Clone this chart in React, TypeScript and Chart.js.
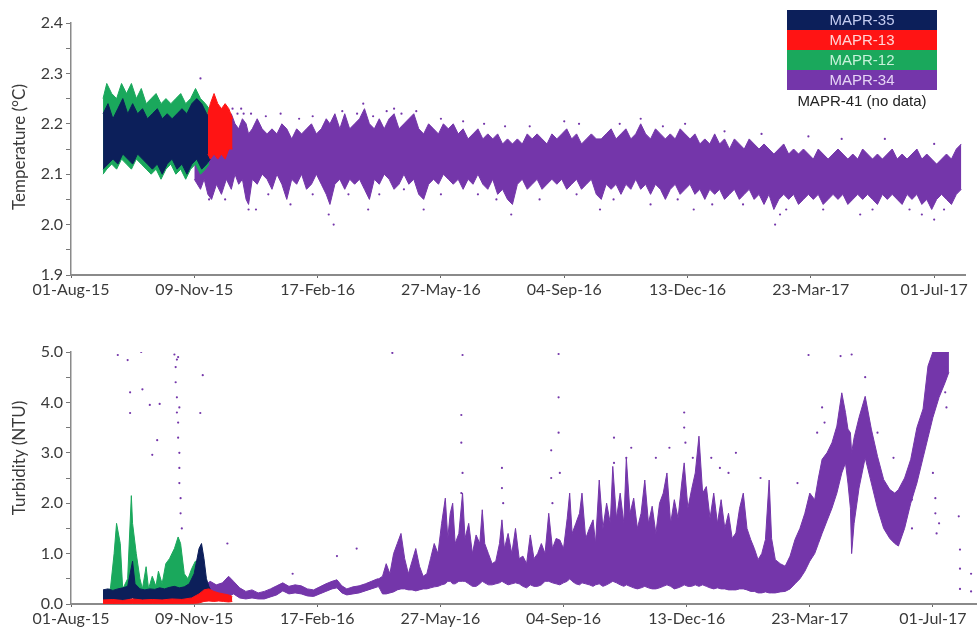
import React, { useEffect, useRef } from 'react';
import { Chart, registerables } from 'chart.js';
Chart.register(...registerables);

// ---------- axis ticks ----------
const xTickDays = [0, 100, 200, 300, 400, 500, 600, 700];
const xTickLabels = ['01-Aug-15', '09-Nov-15', '17-Feb-16', '27-May-16', '04-Sep-16', '13-Dec-16', '23-Mar-17', '01-Jul-17'];
const tempTicks = [1.9, 1.95, 2.0, 2.05, 2.1, 2.15, 2.2, 2.25, 2.3, 2.35, 2.4];
const tempTickLabels = ['1.9', '', '2.0', '', '2.1', '', '2.2', '', '2.3', '', '2.4'];
const turbTicks = [0, 0.5, 1, 1.5, 2, 2.5, 3, 3.5, 4, 4.5, 5];
const turbTickLabels = ['0.0', '', '1.0', '', '2.0', '', '3.0', '', '4.0', '', '5.0'];

// ---------- series names / colours ----------
const seriesNames = ['MAPR-35', 'MAPR-13', 'MAPR-12', 'MAPR-34'];
const seriesColors = ['#0c1f5a', '#ff1414', '#1aa85c', '#7436aa'];
const noDataLabel = 'MAPR-41 (no data)';

// ---------- Temperature (days since 01-Aug-15, envelope low / high) ----------
const tNavyDays = [26, 30, 34, 38, 42, 46, 50, 54, 58, 62, 66, 70, 74, 78, 82, 86, 90, 94, 98, 102, 106, 110, 113];
const tNavyLo = [2.11, 2.12, 2.13, 2.12, 2.14, 2.13, 2.12, 2.14, 2.13, 2.12, 2.11, 2.12, 2.10, 2.12, 2.13, 2.11, 2.12, 2.10, 2.12, 2.13, 2.11, 2.12, 2.13];
const tNavyHi = [2.22, 2.24, 2.21, 2.23, 2.25, 2.22, 2.24, 2.22, 2.23, 2.21, 2.22, 2.23, 2.21, 2.22, 2.21, 2.22, 2.23, 2.22, 2.24, 2.25, 2.24, 2.22, 2.21];

const tGreenDays = [26, 29, 33, 37, 41, 45, 49, 53, 57, 61, 65, 69, 73, 77, 81, 85, 89, 93, 97, 101, 105, 109, 112];
const tGreenLo = [2.10, 2.11, 2.12, 2.11, 2.13, 2.12, 2.11, 2.13, 2.12, 2.11, 2.10, 2.11, 2.09, 2.11, 2.12, 2.10, 2.11, 2.09, 2.11, 2.12, 2.10, 2.11, 2.12];
const tGreenHi = [2.25, 2.28, 2.26, 2.25, 2.28, 2.26, 2.28, 2.25, 2.27, 2.24, 2.25, 2.26, 2.24, 2.25, 2.24, 2.25, 2.26, 2.24, 2.25, 2.27, 2.25, 2.24, 2.23];

const tRedDays = [111, 113, 116, 119, 122, 125, 128, 131];
const tRedLo = [2.14, 2.13, 2.14, 2.13, 2.14, 2.13, 2.15, 2.15];
const tRedHi = [2.22, 2.24, 2.26, 2.24, 2.23, 2.24, 2.23, 2.21];

const tPurpleDays = [100, 105, 108, 111, 114, 118, 122, 126, 130, 133, 136, 139, 142, 144, 147, 151, 155, 159, 163, 167, 171, 175, 179, 183, 187, 191, 195, 199, 203, 207, 210, 214, 218, 222, 226, 230, 234, 238, 242, 246, 250, 254, 258, 262, 266, 270, 274, 278, 282, 286, 290, 294, 298, 302, 306, 310, 314, 318, 322, 326, 330, 334, 338, 342, 346, 350, 354, 358, 362, 366, 370, 374, 378, 382, 386, 390, 394, 398, 402, 406, 410, 414, 418, 422, 426, 430, 434, 438, 442, 446, 450, 454, 458, 462, 466, 470, 474, 478, 482, 486, 490, 494, 498, 502, 506, 510, 514, 518, 522, 526, 530, 534, 538, 542, 546, 550, 554, 558, 562, 566, 570, 574, 578, 582, 586, 590, 594, 598, 602, 606, 610, 614, 618, 622, 626, 630, 634, 638, 642, 646, 650, 654, 658, 662, 666, 670, 674, 678, 682, 686, 690, 694, 698, 702, 706, 710, 714, 718, 722];
const tPurpleLo = [2.09, 2.07, 2.09, 2.06, 2.05, 2.08, 2.06, 2.09, 2.07, 2.10, 2.08, 2.09, 2.05, 2.04, 2.09, 2.08, 2.10, 2.09, 2.07, 2.10, 2.08, 2.05, 2.09, 2.08, 2.10, 2.07, 2.08, 2.10, 2.08, 2.06, 2.04, 2.08, 2.09, 2.07, 2.09, 2.08, 2.09, 2.07, 2.05, 2.09, 2.08, 2.10, 2.09, 2.07, 2.08, 2.10, 2.08, 2.09, 2.06, 2.05, 2.08, 2.09, 2.08, 2.10, 2.09, 2.08, 2.09, 2.07, 2.09, 2.08, 2.10, 2.08, 2.07, 2.09, 2.06, 2.07, 2.05, 2.04, 2.08, 2.09, 2.07, 2.08, 2.09, 2.07, 2.08, 2.09, 2.08, 2.09, 2.07, 2.08, 2.09, 2.07, 2.08, 2.09, 2.06, 2.05, 2.08, 2.07, 2.08, 2.06, 2.08, 2.07, 2.09, 2.07, 2.08, 2.06, 2.08, 2.07, 2.05, 2.07, 2.08, 2.06, 2.07, 2.08, 2.06, 2.07, 2.05, 2.07, 2.06, 2.07, 2.05, 2.06, 2.07, 2.05, 2.06, 2.07, 2.05, 2.06, 2.04, 2.06, 2.03, 2.05, 2.06, 2.05, 2.06, 2.04, 2.05, 2.06, 2.05, 2.06, 2.04, 2.05, 2.06, 2.05, 2.06, 2.04, 2.05, 2.06, 2.05, 2.06, 2.05, 2.04, 2.06, 2.05, 2.06, 2.05, 2.04, 2.06, 2.05, 2.06, 2.04, 2.05, 2.03, 2.05, 2.06, 2.05, 2.04, 2.06, 2.07];
const tPurpleHi = [2.14, 2.16, 2.18, 2.17, 2.19, 2.17, 2.18, 2.20, 2.22, 2.20, 2.19, 2.21, 2.20, 2.18, 2.19, 2.21, 2.19, 2.18, 2.19, 2.18, 2.20, 2.19, 2.17, 2.19, 2.18, 2.19, 2.20, 2.18, 2.19, 2.21, 2.20, 2.22, 2.19, 2.22, 2.19, 2.20, 2.21, 2.23, 2.20, 2.19, 2.21, 2.19, 2.21, 2.22, 2.19, 2.20, 2.21, 2.22, 2.19, 2.18, 2.20, 2.19, 2.18, 2.20, 2.19, 2.20, 2.18, 2.19, 2.17, 2.18, 2.19, 2.17, 2.18, 2.17, 2.18, 2.16, 2.17, 2.16, 2.17, 2.16, 2.18, 2.17, 2.18, 2.17, 2.16, 2.18, 2.17, 2.18, 2.19, 2.17, 2.18, 2.16, 2.17, 2.18, 2.17, 2.17, 2.18, 2.19, 2.17, 2.18, 2.19, 2.17, 2.18, 2.20, 2.18, 2.17, 2.19, 2.18, 2.17, 2.18, 2.17, 2.19, 2.18, 2.17, 2.18, 2.16, 2.17, 2.16, 2.18, 2.16, 2.17, 2.15, 2.17, 2.16, 2.15, 2.17, 2.16, 2.15, 2.16, 2.15, 2.14, 2.15, 2.16, 2.14, 2.15, 2.14, 2.15, 2.14, 2.13, 2.15, 2.14, 2.13, 2.14, 2.15, 2.14, 2.13, 2.14, 2.13, 2.15, 2.14, 2.13, 2.14, 2.13, 2.14, 2.15, 2.13, 2.14, 2.13, 2.14, 2.15, 2.13, 2.14, 2.13, 2.12, 2.13, 2.14, 2.13, 2.15, 2.16];

const tOutDays = [144, 150, 209, 213, 241, 286, 357, 429, 505, 571, 575, 640, 690, 700, 131, 135, 140, 105, 262, 237,
  120, 127, 138, 146, 158, 170, 185, 196, 220, 232, 245, 256, 268, 280, 300, 318, 335, 352, 372, 400, 412, 445, 462, 480, 498, 530, 560, 598, 625, 660, 700,
  112, 125, 160, 178, 196, 225, 250, 270, 300, 330, 345, 380, 410, 440, 470, 492, 520, 545, 580, 610, 650, 680, 708];
const tOutVals = [2.03, 2.03, 2.02, 2.00, 2.03, 2.03, 2.02, 2.03, 2.03, 2.00, 2.02, 2.02, 2.02, 2.01, 2.23, 2.22, 2.22, 2.29, 2.23, 2.24,
  2.22, 2.225, 2.23, 2.22, 2.215, 2.22, 2.21, 2.215, 2.225, 2.22, 2.215, 2.225, 2.22, 2.225, 2.21, 2.205, 2.2, 2.195, 2.195, 2.205, 2.2, 2.2, 2.21, 2.195, 2.2, 2.185, 2.18, 2.175, 2.17, 2.17, 2.16,
  2.05, 2.05, 2.06, 2.04, 2.06, 2.06, 2.06, 2.07, 2.06, 2.06, 2.05, 2.05, 2.06, 2.05, 2.04, 2.05, 2.04, 2.04, 2.03, 2.03, 2.03, 2.03, 2.03];

// ---------- Turbidity ----------
const nGreenDays = [26, 32, 35, 37, 40, 42, 46, 49, 50, 53, 56, 58, 61, 63, 66, 69, 71, 74, 77, 80, 84, 87, 89, 92, 95, 98, 101, 105, 108, 111];
const nGreenLo = [0.05, 0.05, 0.1, 0.1, 0.1, 0.05, 0.1, 0.2, 0.2, 0.1, 0.1, 0.1, 0.1, 0.1, 0.1, 0.1, 0.1, 0.1, 0.1, 0.15, 0.2, 0.3, 0.3, 0.2, 0.15, 0.2, 0.2, 0.2, 0.15, 0.1];
const nGreenHi = [0.25, 0.3, 1.0, 1.6, 1.2, 0.3, 0.5, 2.15, 1.6, 1.0, 0.5, 0.3, 0.74, 0.3, 0.55, 0.35, 0.65, 0.4, 0.8, 0.9, 1.1, 1.33, 1.2, 0.6, 0.5, 0.7, 0.85, 0.8, 0.5, 0.3];

const nNavyDays = [26, 30, 34, 38, 42, 46, 48, 50, 52, 56, 60, 64, 68, 72, 76, 80, 84, 88, 92, 96, 100, 104, 106, 108, 110, 112, 114];
const nNavyLo = [0.06, 0.07, 0.06, 0.08, 0.07, 0.08, 0.1, 0.12, 0.08, 0.07, 0.08, 0.06, 0.07, 0.08, 0.07, 0.08, 0.09, 0.08, 0.07, 0.08, 0.1, 0.12, 0.15, 0.14, 0.12, 0.1, 0.1];
const nNavyHi = [0.28, 0.3, 0.27, 0.3, 0.32, 0.35, 0.6, 0.85, 0.4, 0.3, 0.28, 0.3, 0.29, 0.32, 0.3, 0.33, 0.35, 0.32, 0.34, 0.4, 0.6, 1.1, 1.2, 0.9, 0.5, 0.35, 0.25];

const nRedDays = [26, 34, 42, 50, 58, 66, 74, 82, 90, 98, 104, 108, 112, 116, 120, 124, 128, 131];
const nRedLo = [0.0, 0.01, 0.0, 0.01, 0.0, 0.01, 0.0, 0.01, 0.0, 0.01, 0.02, 0.05, 0.06, 0.05, 0.06, 0.05, 0.04, 0.05];
const nRedHi = [0.08, 0.09, 0.07, 0.1, 0.08, 0.09, 0.08, 0.1, 0.09, 0.12, 0.2, 0.28, 0.3, 0.25, 0.22, 0.2, 0.18, 0.15];

const nPurpleDays = [82, 86, 90, 94, 100, 104, 108, 113, 118, 123, 128, 132, 137, 142, 147, 152, 157, 162, 167, 172, 177, 182, 187, 192, 197, 202, 207, 212, 216, 220, 224, 229, 234, 239, 244, 249,
  250, 253, 256, 259, 262, 265, 268, 271, 274, 277, 280, 283, 286, 289, 292, 295, 298, 301, 304, 306, 308, 310, 312, 315, 318, 320, 323, 326, 329, 332, 334, 336, 339, 342, 345, 348, 350, 352, 355, 358, 361, 364, 367, 370, 373, 376, 379, 382, 385, 388, 391, 394, 397, 400, 403, 405, 407, 410, 413, 415, 418, 421, 424, 426, 429, 432, 435, 438, 440, 443, 446, 449, 451, 454, 457, 460, 463, 466, 469, 472, 475, 478, 481, 484, 487, 490, 493, 496, 498, 501, 504, 507, 510, 513, 516, 519, 522, 525, 528, 531, 534, 537, 540, 543, 546, 549, 552, 555, 558, 561, 564, 567, 569, 572, 576, 580,
  584, 588, 592, 596, 600, 604, 607, 610, 614, 618, 622, 626, 629, 631, 633, 634, 636, 640, 645, 650, 655, 660, 665, 669, 672, 677, 682, 687, 692, 696, 700, 705, 710, 713];
const nPurpleLo = [0.15, 0.2, 0.25, 0.2, 0.2, 0.15, 0.12, 0.15, 0.12, 0.14, 0.15, 0.2, 0.12, 0.1, 0.12, 0.1, 0.1, 0.14, 0.18, 0.26, 0.2, 0.22, 0.2, 0.16, 0.15, 0.2, 0.25, 0.3, 0.32, 0.22, 0.18, 0.2, 0.22, 0.26, 0.3, 0.34,
  0.34, 0.2, 0.2, 0.22, 0.24, 0.28, 0.3, 0.3, 0.28, 0.28, 0.26, 0.28, 0.3, 0.3, 0.32, 0.34, 0.35, 0.38, 0.4, 0.45, 0.45, 0.4, 0.4, 0.45, 0.45, 0.45, 0.4, 0.35, 0.35, 0.4, 0.45, 0.42, 0.38, 0.38, 0.4, 0.42, 0.45, 0.42, 0.38, 0.4, 0.42, 0.4, 0.35, 0.32, 0.38, 0.35, 0.35, 0.38, 0.45, 0.45, 0.42, 0.4, 0.38, 0.42, 0.45, 0.5, 0.45, 0.4, 0.38, 0.42, 0.4, 0.38, 0.35, 0.38, 0.4, 0.35, 0.38, 0.42, 0.45, 0.42, 0.38, 0.35, 0.38, 0.35, 0.32, 0.3, 0.32, 0.35, 0.32, 0.3, 0.3, 0.32, 0.35, 0.38, 0.35, 0.3, 0.32, 0.35, 0.38, 0.35, 0.35, 0.38, 0.35, 0.38, 0.35, 0.32, 0.3, 0.32, 0.3, 0.3, 0.28, 0.28, 0.28, 0.3, 0.3, 0.28, 0.25, 0.25, 0.22, 0.22, 0.24, 0.22, 0.22, 0.22, 0.24, 0.25,
  0.3, 0.4, 0.5, 0.65, 0.85, 1.0, 1.2, 1.4, 1.65, 1.9, 2.2, 2.6, 2.8, 2.4, 1.9, 1.0, 1.6, 2.3, 2.9, 2.4, 1.9, 1.5, 1.3, 1.2, 1.15, 1.5, 2.0, 2.4, 2.9, 3.3, 3.7, 4.1, 4.4, 4.6];
const nPurpleHi = [0.5, 0.7, 0.6, 0.45, 0.4, 0.45, 0.35, 0.45, 0.38, 0.42, 0.55, 0.45, 0.32, 0.25, 0.28, 0.22, 0.25, 0.3, 0.36, 0.42, 0.35, 0.38, 0.36, 0.3, 0.28, 0.34, 0.4, 0.45, 0.48, 0.36, 0.3, 0.34, 0.36, 0.4, 0.45, 0.5,
  0.5, 0.55, 0.8, 0.6, 1.0, 1.2, 1.4, 0.9, 0.6, 0.85, 1.1, 0.75, 0.55, 0.6, 0.9, 1.2, 1.0, 1.6, 2.1, 1.3, 1.8, 2.0, 1.2, 1.4, 2.2, 1.3, 1.6, 1.0, 1.37, 1.2, 1.87, 1.2, 1.0, 0.8, 0.85, 1.2, 1.67, 1.1, 1.4, 1.0, 1.5, 0.9, 0.95, 0.8, 1.37, 0.9, 1.0, 1.2, 1.0, 1.8, 1.1, 1.3, 1.27, 1.1, 1.7, 2.2, 1.4, 1.6, 1.8, 2.2, 1.3, 1.5, 1.67, 1.2, 2.46, 1.5, 2.0, 1.6, 2.73, 1.7, 2.2, 1.6, 2.9, 1.8, 2.1, 1.5, 1.8, 2.46, 1.6, 1.94, 1.4, 2.0, 2.2, 2.6, 1.6, 2.07, 1.7, 2.4, 2.8, 1.9, 2.27, 2.6, 3.33, 2.2, 2.33, 1.7, 2.2, 1.6, 2.07, 1.5, 1.8, 1.3, 1.41, 1.9, 2.2, 1.5, 1.28, 1.1, 0.88, 1.0, 1.28, 2.46, 1.3, 0.88, 0.8, 0.75,
  0.95, 1.28, 1.5, 1.8, 2.2, 2.07, 2.5, 2.87, 3.0, 3.2, 3.53, 4.19, 3.8, 3.47, 3.4, 3.0, 3.3, 3.7, 4.12, 3.47, 2.93, 2.47, 2.27, 2.2, 2.27, 2.5, 2.87, 3.5, 3.87, 4.72, 5.0, 5.0, 5.0, 5.0];

const nOutDays = [38, 46, 57, 48, 58, 48, 64, 66, 107, 105, 72, 70, 127, 84, 85, 85, 86, 86, 87, 87, 88, 88, 88, 89, 89, 90, 86, 87, 88, 261, 318, 396, 317, 317, 318, 317, 350, 350, 351, 390, 390, 391, 396, 396, 397, 441, 441, 451, 451, 599, 625, 634, 645, 606, 710, 710, 711, 702, 702, 703, 721, 722, 722, 722, 731, 731, 683, 683, 216, 232, 180, 265, 455, 540,
  498, 498, 499, 520, 534, 475, 610, 612, 655, 668, 690, 700, 705, 486, 505, 527, 560, 590];
const nOutVals = [4.94, 4.84, 5.0, 4.2, 4.26, 3.79, 3.95, 2.96, 4.54, 3.79, 3.97, 3.25, 1.2, 4.95, 4.7, 4.4, 4.1, 3.8, 3.6, 3.3, 3.0, 2.7, 2.4, 2.1, 1.8, 1.5, 4.85, 4.9, 3.9, 4.98, 4.94, 4.96, 3.75, 3.2, 2.6, 2.2, 2.7, 2.3, 2.0, 3.05, 2.5, 2.0, 4.1, 3.4, 2.6, 3.3, 2.8, 2.9, 2.5, 4.94, 4.92, 4.95, 4.5, 3.4, 4.7, 4.2, 3.9, 2.1, 1.8, 1.4, 1.74, 1.08, 0.7, 0.3, 0.6, 0.25, 2.07, 1.5, 0.95, 1.1, 0.6, 0.8, 3.1, 3.0,
  3.8, 3.5, 3.2, 2.9, 2.6, 2.9, 3.9, 3.6, 3.4, 2.9, 3.0, 2.6, 1.6, 3.1, 2.9, 2.7, 2.5, 2.4];

// ---------- helpers ----------
function band(days: number[], lo: number[], hi: number[], color: string): any[] {
  return [
    {
      type: 'line',
      data: days.map((d, i) => ({ x: d, y: hi[i] })),
      borderColor: color,
      borderWidth: 1,
      pointRadius: 0,
      fill: '+1',
      backgroundColor: color,
      tension: 0,
    },
    {
      type: 'line',
      data: days.map((d, i) => ({ x: d, y: lo[i] })),
      borderColor: color,
      borderWidth: 1,
      pointRadius: 0,
      fill: false,
      tension: 0,
    },
  ];
}

function dots(days: number[], vals: number[], color: string): any {
  return {
    type: 'line',
    data: days.map((d, i) => ({ x: d, y: vals[i] })),
    showLine: false,
    pointRadius: 1.1,
    pointBorderWidth: 0,
    pointBackgroundColor: color,
    borderColor: color,
    fill: false,
  };
}

const tickFont = { family: 'Lato, "Open Sans", sans-serif', size: 16 };
const axisGrey = '#8a8a8a';

function makeOptions(yMin: number, yMax: number, yTicks: number[], yLabels: string[], xMax: number, xHeight: number, pad: any): any {
  return {
    responsive: false,
    animation: false,
    events: [],
    layout: { padding: pad },
    plugins: { legend: { display: false }, tooltip: { enabled: false } },
    scales: {
      x: {
        type: 'linear',
        min: 0,
        max: xMax,
        afterBuildTicks: (s: any) => { s.ticks = xTickDays.map((v) => ({ value: v })); },
        afterFit: (s: any) => { s.height = xHeight; s.paddingLeft = 0; s.paddingRight = 0; },
        ticks: {
          autoSkip: false,
          maxRotation: 0,
          padding: 2,
          color: '#3a3a3a',
          font: tickFont,
          callback: (v: number) => { const i = xTickDays.indexOf(v); return i >= 0 ? xTickLabels[i] : ''; },
        },
        grid: { drawOnChartArea: false, drawTicks: true, tickLength: 3, color: '#666', lineWidth: 1 },
        border: { color: axisGrey, width: 2 },
      },
      y: {
        type: 'linear',
        min: yMin,
        max: yMax,
        afterBuildTicks: (s: any) => { s.ticks = yTicks.map((v) => ({ value: v })); },
        afterFit: (s: any) => { s.width = 71; },
        ticks: {
          autoSkip: false,
          padding: 3,
          color: '#3a3a3a',
          font: tickFont,
          callback: (v: number) => { const i = yTicks.findIndex((t) => Math.abs(t - v) < 1e-6); return i >= 0 ? yLabels[i] : ''; },
        },
        grid: { drawOnChartArea: false, drawTicks: true, tickLength: 5, color: '#777', lineWidth: 1 },
        border: { color: axisGrey, width: 1.5 },
      },
    },
  };
}

export default function App() {
  const topRef = useRef<HTMLCanvasElement>(null);
  const botRef = useRef<HTMLCanvasElement>(null);

  useEffect(() => {
    const [cNavy, cRed, cGreen, cPurple] = seriesColors;
    const top = new Chart(topRef.current as HTMLCanvasElement, {
      type: 'line',
      data: {
        datasets: [
          ...band(tRedDays, tRedLo, tRedHi, cRed),
          ...band(tNavyDays, tNavyLo, tNavyHi, cNavy),
          ...band(tGreenDays, tGreenLo, tGreenHi, cGreen),
          dots(tOutDays, tOutVals, cPurple),
          ...band(tPurpleDays, tPurpleLo, tPurpleHi, cPurple),
        ],
      },
      options: makeOptions(1.9, 2.4, tempTicks, tempTickLabels, 725, 25, { left: 0, right: 15, top: 23, bottom: 0 }),
    } as any);

    const bot = new Chart(botRef.current as HTMLCanvasElement, {
      type: 'line',
      data: {
        datasets: [
          ...band(nRedDays, nRedLo, nRedHi, cRed),
          ...band(nNavyDays, nNavyLo, nNavyHi, cNavy),
          ...band(nGreenDays, nGreenLo, nGreenHi, cGreen),
          dots(nOutDays, nOutVals, cPurple),
          ...band(nPurpleDays, nPurpleLo, nPurpleHi, cPurple),
        ],
      },
      options: makeOptions(0, 5, turbTicks, turbTickLabels, 735, 24, { left: 0, right: 2, top: 52, bottom: 0 }),
    } as any);

    return () => { top.destroy(); bot.destroy(); };
  }, []);

  const titleStyle: React.CSSProperties = {
    position: 'absolute',
    left: 18,
    transform: 'translate(-50%, -50%) rotate(-90deg)',
    whiteSpace: 'nowrap',
    fontFamily: 'Lato, "Open Sans", sans-serif',
    fontSize: 17,
    color: '#3a3a3a',
  };
  const textTints = ['#c4ccf0', '#ffd6d6', '#c8f2da', '#e6d4f6'];

  return (
    <div style={{ position: 'absolute', left: 0, top: 0, width: 980, height: 628, background: '#fff', overflow: 'hidden' }}>
      <canvas ref={topRef} width={980} height={300} style={{ position: 'absolute', left: 0, top: 0 }} />
      <canvas ref={botRef} width={980} height={328} style={{ position: 'absolute', left: 0, top: 300 }} />
      <div style={{ ...titleStyle, top: 147 }}>Temperature (°C)</div>
      <div style={{ ...titleStyle, top: 458 }}>Turbidity (NTU)</div>
      <div style={{ position: 'absolute', left: 787, top: 10, width: 150, fontFamily: '"Liberation Sans", Arial, sans-serif', fontSize: 15 }}>
        {seriesNames.map((n, i) => (
          <div key={n} style={{ height: 20, lineHeight: '20px', background: seriesColors[i], color: textTints[i], textAlign: 'center' }}>{n}</div>
        ))}
        <div style={{ height: 22, lineHeight: '22px', color: '#222', textAlign: 'center' }}>{noDataLabel}</div>
      </div>
    </div>
  );
}
